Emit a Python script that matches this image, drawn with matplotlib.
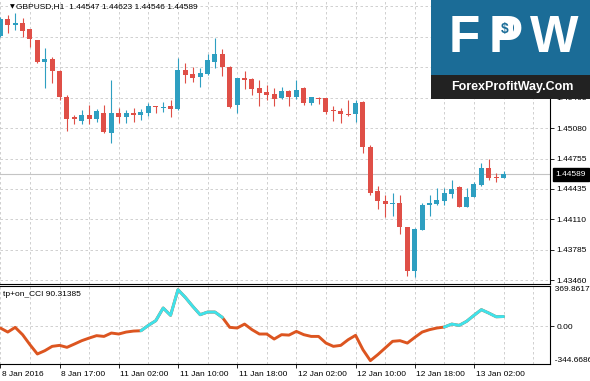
import numpy as np
import matplotlib
matplotlib.use("Agg")
import matplotlib.pyplot as plt
from matplotlib.patches import Rectangle
from matplotlib.transforms import blended_transform_factory

# --- data ---
symbol = "GBPUSD,H1"
last_ohlc = ["1.44547", "1.44623", "1.44546", "1.44589"]
indicator_name = "tp+on_CCI"
indicator_last = "90.31385"

opens = [1.46060, 1.46242, 1.46178, 1.46199, 1.46135, 1.46018, 1.45783, 1.45815, 1.45687, 1.45410,
         1.45197, 1.45154, 1.45219, 1.45176, 1.45240, 1.45027, 1.45240, 1.45197, 1.45240, 1.45219,
         1.45240, 1.45314, 1.45293, 1.45314, 1.45283, 1.45698, 1.45655, 1.45623, 1.45655, 1.45783,
         1.45869, 1.45730, 1.45325, 1.45613, 1.45602, 1.45506, 1.45464, 1.45442, 1.45400, 1.45474,
         1.45410, 1.45506, 1.45346, 1.45400, 1.45400, 1.45272, 1.45261, 1.45229, 1.45229, 1.45357,
         1.44878, 1.44409, 1.44302, 1.44270, 1.44281, 1.44025, 1.43556, 1.43993, 1.44260, 1.44270,
         1.44302, 1.44377, 1.44451, 1.44238, 1.44345, 1.44473, 1.44654, 1.44558, 1.44547]
highs = [1.46263, 1.46284, 1.46305, 1.46252, 1.46140, 1.46020, 1.45932, 1.45837, 1.45698, 1.45432,
         1.45219, 1.45272, 1.45325, 1.45283, 1.45325, 1.45591, 1.45293, 1.45272, 1.45293, 1.45283,
         1.45346, 1.45318, 1.45357, 1.45378, 1.45826, 1.45773, 1.45730, 1.45719, 1.45869, 1.46039,
         1.45922, 1.45741, 1.45615, 1.45687, 1.45613, 1.45591, 1.45538, 1.45506, 1.45517, 1.45485,
         1.45591, 1.45517, 1.45415, 1.45410, 1.45405, 1.45314, 1.45293, 1.45378, 1.45378, 1.45368,
         1.44900, 1.44462, 1.44366, 1.44391, 1.44366, 1.44030, 1.44010, 1.44284, 1.44366, 1.44441,
         1.44441, 1.44526, 1.44462, 1.44441, 1.44505, 1.44707, 1.44750, 1.44600, 1.44623]
lows = [1.46050, 1.46092, 1.46124, 1.46050, 1.45943, 1.45773, 1.45506, 1.45559, 1.45378, 1.45048,
        1.45123, 1.45123, 1.45123, 1.45144, 1.45030, 1.44920, 1.45133, 1.45133, 1.45144, 1.45165,
        1.45208, 1.45240, 1.45250, 1.45197, 1.45272, 1.45559, 1.45570, 1.45517, 1.45650, 1.45719,
        1.45634, 1.45293, 1.45240, 1.45496, 1.45432, 1.45314, 1.45378, 1.45314, 1.45389, 1.45314,
        1.45389, 1.45325, 1.45325, 1.45336, 1.45229, 1.45154, 1.45133, 1.45208, 1.45144, 1.44814,
        1.44366, 1.44217, 1.44132, 1.44142, 1.43951, 1.43503, 1.43492, 1.43990, 1.44142, 1.44265,
        1.44260, 1.44334, 1.44235, 1.44235, 1.44340, 1.44462, 1.44526, 1.44505, 1.44546]
closes = [1.46242, 1.46178, 1.46199, 1.46114, 1.46028, 1.45783, 1.45815, 1.45687, 1.45410, 1.45176,
          1.45176, 1.45219, 1.45176, 1.45261, 1.45037, 1.45240, 1.45197, 1.45240, 1.45219, 1.45250,
          1.45314, 1.45304, 1.45304, 1.45283, 1.45698, 1.45645, 1.45613, 1.45666, 1.45805, 1.45869,
          1.45730, 1.45304, 1.45613, 1.45591, 1.45496, 1.45453, 1.45432, 1.45389, 1.45474, 1.45410,
          1.45485, 1.45346, 1.45410, 1.45389, 1.45250, 1.45261, 1.45229, 1.45219, 1.45346, 1.44878,
          1.44387, 1.44302, 1.44270, 1.44281, 1.44025, 1.43556, 1.44004, 1.44260, 1.44281, 1.44313,
          1.44387, 1.44430, 1.44238, 1.44345, 1.44483, 1.44654, 1.44547, 1.44547, 1.44589]

cci = [-15, -52, -9, -76, -168, -253, -223, -183, -174, -192,
       -162, -131, -107, -85, -92, -61, -70, -52, -43, -40,
       9, 52, 168, 101, 336, 265, 183, 107, 131, 131,
       82, -9, -15, 21, -30, -70, -70, -116, -76, -80,
       -46, -76, -92, -92, -153, -183, -174, -122, -82, -214,
       -314, -259, -198, -137, -131, -153, -101, -52, -30, -15,
       -6, 21, 9, 46, 101, 153, 122, 88, 90.31]
cci_up_ranges = [(19, 30), (60, 68)]   # bars drawn in aqua
cci_max, cci_min = 369.8617, -344.6686

price_ticks = [1.43460, 1.43785, 1.44110, 1.44435, 1.44755,
               1.45080, 1.45405, 1.45730, 1.46055, 1.46380]
time_labels = ["8 Jan 2016", "8 Jan 17:00", "11 Jan 02:00", "11 Jan 10:00", "11 Jan 18:00",
               "12 Jan 02:00", "12 Jan 10:00", "12 Jan 18:00", "13 Jan 02:00"]
label_every = 8
grid_every = 4

# --- style ---
UP = "#2e9fc1"
DOWN = "#df4f47"
GRID = "#c9c9c9"
CCI_DN = "#dc5520"
CCI_UP = "#3fe2ea"
plt.rcParams["font.family"] = ["Liberation Sans", "DejaVu Sans"]
plt.rcParams["font.size"] = 6

W, H = 590, 381
fig = plt.figure(figsize=(W / 100, H / 100), dpi=100)


def px_axes(x0, y0, x1, y1):
    return fig.add_axes([x0 / W, 1 - y1 / H, (x1 - x0) / W, (y1 - y0) / H])


ax = px_axes(0, 0, 550, 284)
ai = px_axes(0, 286, 550, 364)

bar_px = 7.4
xlim = (-0.05, 550 / bar_px - 0.05)
n = len(opens)
x = np.arange(n)
o, h, l, c = map(np.array, (opens, highs, lows, closes))
cols = np.where(c >= o, UP, DOWN)

# candles
ax.vlines(x, l, h, colors=cols, lw=0.8, zorder=3)
body_lo = np.minimum(o, c)
body_h = np.maximum(np.abs(c - o), 0.00011)
ax.bar(x, body_h, bottom=body_lo, width=0.68, color=cols, lw=0, zorder=4)

ax.axhline(closes[-1], color="#c4c4c4", lw=0.8, zorder=2)

ax.set_xlim(*xlim)
ax.set_ylim(1.43418, 1.46444)
ax.set_yticks(price_ticks)
ax.set_yticklabels([f"{p:.5f}" for p in price_ticks])
ax.yaxis.tick_right()
ax.tick_params(axis="y", length=3, width=0.6, pad=1.5, labelsize=6)
label_pos = np.arange(0, n, label_every)
grid_pos = np.arange(grid_every, xlim[1], grid_every)
for a in (ax, ai):
    a.set_xticks(label_pos)
    a.set_xticks(grid_pos, minor=True)
    a.grid(True, which="both", axis="x", ls=(0, (3, 3)), color=GRID, lw=0.6)
    a.set_axisbelow(True)
    a.spines["left"].set_visible(False)
    for s in ("right", "top", "bottom"):
        a.spines[s].set_linewidth(0.8)
ax.grid(True, axis="y", ls=(0, (3, 3)), color=GRID, lw=0.6)
ax.spines["top"].set_visible(False)
ax.tick_params(axis="x", which="both", length=0, labelbottom=False)

# last price tag
ax.annotate(last_ohlc[3], xy=(1, closes[-1]), xycoords=("axes fraction", "data"),
            xytext=(4, 0), textcoords="offset points", ha="left", va="center",
            color="white", fontsize=6,
            bbox=dict(boxstyle="square,pad=0.35", fc="black", ec="black"),
            annotation_clip=False, zorder=5)

# header
fig.text(10 / W, 1 - 6.5 / H, "\u25bc", fontsize=4.5, va="center", family="DejaVu Sans")
fig.text(16 / W, 1 - 6.5 / H, symbol + "  " + " ".join(last_ohlc), fontsize=6, va="center")

# CCI
cci_arr = np.array(cci, dtype=float)
ai.plot(x, cci_arr, color=CCI_DN, lw=2.1, solid_joinstyle="round", solid_capstyle="round", zorder=3)
for s, e in cci_up_ranges:
    ai.plot(x[s:e + 1], cci_arr[s:e + 1], color=CCI_UP, lw=2.1,
            solid_joinstyle="round", solid_capstyle="round", zorder=4)
ai.set_xlim(*xlim)
ai.set_ylim(cci_min, cci_max)
ai.set_yticks([0])
ai.set_yticklabels(["0.00"])
ai.yaxis.tick_right()
ai.tick_params(axis="y", length=3, width=0.6, pad=1.5, labelsize=6)
ai.grid(True, axis="y", ls=(0, (3, 3)), color=GRID, lw=0.6)
ai.tick_params(axis="x", which="major", length=3, width=0.6, labelbottom=False)
ai.tick_params(axis="x", which="minor", length=0)
ai.text(1.0, 1.0, f"  {cci_max:.4f}", transform=ai.transAxes, ha="left", va="top", fontsize=6, clip_on=False)
ai.text(1.0, 0.0, f"  {cci_min:.4f}", transform=ai.transAxes, ha="left", va="bottom", fontsize=6, clip_on=False)
ai.text(3 / 550, 0.93, f"{indicator_name} {indicator_last}", transform=ai.transAxes,
        ha="left", va="top", fontsize=6)

tr = blended_transform_factory(ai.transData, ai.transAxes)
for pos, lab in zip(label_pos, time_labels):
    ai.annotate(lab, xy=(pos, 0), xycoords=tr, xytext=(1.2, -7.6), textcoords="offset points",
                ha="left", va="center", fontsize=6, annotation_clip=False)

# FPW logo overlay
LOGO_BLUE = "#1b6c97"
fig.add_artist(Rectangle((431 / W, 1 - 75 / H), 159 / W, 75 / H, transform=fig.transFigure,
                         fc=LOGO_BLUE, ec="none", zorder=10))
fig.add_artist(Rectangle((431 / W, 1 - 99 / H), 159 / W, 24 / H, transform=fig.transFigure,
                         fc="#222222", ec="none", zorder=10))
for ch, cx in zip("FPW", (464, 506, 554)):
    fig.text(cx / W, 1 - 38 / H, ch, ha="center", va="center", color="white",
             fontsize=37, fontweight="bold", zorder=11)
# P bowl filled white with a blue dollar sign
fig.add_artist(Rectangle((499 / W, 1 - 37 / H), 14 / W, 15 / H, transform=fig.transFigure,
                         fc="white", ec="none", zorder=12))
fig.text(505 / W, 1 - 29.5 / H, "$", ha="center", va="center", color=LOGO_BLUE,
         fontsize=10, fontweight="bold", zorder=13)
fig.text(512 / W, 1 - 87 / H, "ForexProfitWay.Com", ha="center", va="center", color="white",
         fontsize=9, fontweight="bold", zorder=11)

fig.savefig("out.png", dpi=100)
